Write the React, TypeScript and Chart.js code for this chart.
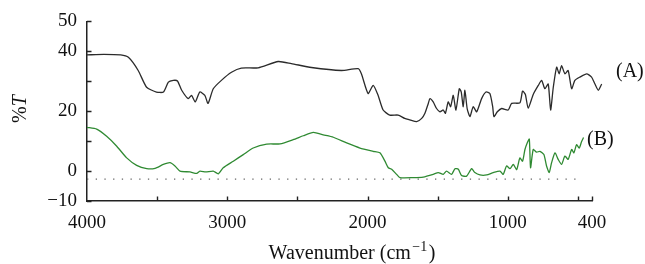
import React, { useEffect, useRef } from "react";
import { Chart, registerables } from "chart.js";

Chart.register(...registerables);

// Spectrum (A): wavenumber (cm^-1) and %T
const aWavenumber = [4000, 3880, 3760, 3705, 3635, 3575, 3505, 3455, 3420, 3385, 3355, 3325, 3278, 3255, 3228, 3196, 3160, 3137, 3100, 3042, 2970, 2900, 2780, 2637, 2543, 2400, 2186, 2067, 2044, 1996, 1960, 1925, 1889, 1842, 1782, 1735, 1698, 1650, 1614, 1591, 1567, 1555, 1532, 1508, 1484, 1460, 1445, 1425, 1408, 1389, 1370, 1346, 1332, 1318, 1306, 1290, 1270, 1247, 1222, 1187, 1156, 1128, 1108, 1099, 1075, 1044, 997, 973, 914, 895, 875, 855, 819, 783, 759, 736, 712, 695, 676, 652, 634, 617, 593, 570, 545, 522, 486, 438, 403, 379, 355, 331];
const aTransmittance = [38.8, 39.0, 38.8, 38.0, 33.6, 28.0, 26.4, 26.4, 29.7, 30.3, 30.1, 27.0, 24.2, 25.3, 23.1, 26.4, 25.3, 22.6, 27.5, 30.3, 33.0, 34.4, 34.5, 36.6, 35.9, 34.6, 33.6, 34.2, 32.5, 25.9, 28.6, 25.3, 20.4, 18.7, 18.7, 17.6, 17.1, 16.5, 17.6, 19.3, 22.6, 24.2, 23.1, 20.9, 19.8, 20.4, 19.3, 23.1, 21.5, 25.3, 20.4, 27.5, 26.4, 21.5, 27.0, 20.9, 18.2, 21.5, 19.8, 24.2, 26.4, 25.9, 21.5, 18.2, 19.8, 20.9, 20.4, 22.6, 22.8, 26.7, 25.6, 21.0, 25.6, 28.6, 30.3, 27.5, 29.1, 20.4, 28.0, 34.7, 32.5, 35.2, 32.5, 33.6, 27.5, 30.3, 31.4, 32.5, 31.4, 29.1, 27.0, 29.1];

// Spectrum (B)
const bWavenumber = [4000, 3931, 3860, 3788, 3717, 3646, 3574, 3515, 3456, 3408, 3373, 3337, 3266, 3218, 3195, 3154, 3100, 3064, 3029, 2957, 2886, 2815, 2719, 2624, 2530, 2458, 2387, 2316, 2244, 2149, 2054, 1960, 1912, 1876, 1852, 1828, 1793, 1769, 1674, 1603, 1532, 1496, 1460, 1437, 1401, 1377, 1353, 1330, 1294, 1258, 1235, 1199, 1151, 1104, 1056, 1033, 1009, 985, 961, 937, 914, 895, 878, 862, 847, 838, 819, 795, 771, 743, 724, 705, 688, 664, 641, 617, 593, 570, 545, 529, 510, 491, 474, 460];
const bTransmittance = [14.6, 14.0, 11.6, 8.3, 4.4, 1.9, 0.8, 0.9, 2.2, 2.8, 1.7, 0.0, -0.3, -0.8, 0.0, -0.3, 0.0, -0.9, 1.1, 3.3, 5.5, 7.7, 9.0, 9.1, 10.5, 11.8, 12.9, 12.1, 11.3, 9.4, 7.7, 6.6, 6.1, 3.3, 1.1, 0.6, -1.1, -2.2, -2.2, -2.0, -1.1, -0.5, -1.1, 0.0, -1.1, 0.8, 0.6, -1.5, -1.7, 0.8, -0.5, -1.3, -1.3, -0.5, 0.0, -1.1, 1.7, 0.8, 2.2, 0.5, 4.4, 3.3, 7.2, 9.4, 10.7, 1.1, 7.2, 6.3, 6.6, 5.5, 1.7, -0.5, 2.8, 6.1, 3.9, 2.2, 5.0, 3.9, 7.2, 6.1, 8.8, 7.7, 9.9, 11.2];

// Dotted baseline
const baselineWavenumber = [4000, 493];
const baselineValue = [-2.7, -2.7];

const xTickLabels = [4000, 3000, 2000, 1000, 400];
const xMinorTicks = [3500, 3000, 2500, 2000, 1500, 1000, 500, 400];
const yTickValues = [50, 40, 30, 20, 10, 0, -10];
const yLabelled = [50, 40, 20, 0, -10];
const seriesLabels = ["(A)", "(B)"];
const yTitle = ["%", "T"];
const xTitle = ["Wavenumber (cm", "\u22121", ")"];

const FONT = "'Liberation Serif', 'Times New Roman', serif";

const toPoints = (xs: number[], ys: number[]) => xs.map((x, i) => ({ x, y: ys[i] }));

const decorPlugin = {
  id: "decor",
  afterDraw(chart: any) {
    const { ctx, scales } = chart;
    const xs = scales.x;
    const ys = scales.y;
    const area = chart.chartArea;
    ctx.save();
    ctx.strokeStyle = "#222";
    ctx.lineWidth = 1.4;
    // inward ticks
    ctx.beginPath();
    yTickValues.forEach((v) => {
      const py = Math.round(ys.getPixelForValue(v)) + 0.5;
      ctx.moveTo(area.left, py);
      ctx.lineTo(area.left + 4.5, py);
    });
    xMinorTicks.forEach((v) => {
      const px = Math.round(xs.getPixelForValue(v)) + 0.5;
      ctx.moveTo(px, area.bottom);
      ctx.lineTo(px, area.bottom - 4.5);
    });
    ctx.stroke();

    ctx.fillStyle = "#111";
    ctx.textBaseline = "middle";
    ctx.font = `20px ${FONT}`;
    ctx.textAlign = "left";
    ctx.fillText(seriesLabels[0], 616, 72);
    ctx.fillText(seriesLabels[1], 587, 140);

    // y title: "%T" rotated, T italic
    ctx.save();
    ctx.translate(21, 109);
    ctx.rotate(-Math.PI / 2);
    ctx.font = `20px ${FONT}`;
    const w1 = ctx.measureText(yTitle[0]).width;
    ctx.font = `italic 20px ${FONT}`;
    const w2 = ctx.measureText(yTitle[1]).width;
    const start = -(w1 + w2) / 2;
    ctx.textAlign = "left";
    ctx.font = `20px ${FONT}`;
    ctx.fillText(yTitle[0], start, 0);
    ctx.font = `italic 20px ${FONT}`;
    ctx.fillText(yTitle[1], start + w1, 0);
    ctx.restore();

    // x title with superscript
    ctx.textAlign = "left";
    ctx.textBaseline = "alphabetic";
    ctx.font = `20px ${FONT}`;
    const t1 = ctx.measureText(xTitle[0]).width;
    ctx.font = `14px ${FONT}`;
    const t2 = ctx.measureText(xTitle[1]).width;
    ctx.font = `20px ${FONT}`;
    const t3 = ctx.measureText(xTitle[2]).width;
    const total = t1 + t2 + 3 + t3;
    const x0 = 352 - total / 2;
    const base = 259;
    ctx.fillText(xTitle[0], x0, base);
    ctx.font = `14px ${FONT}`;
    ctx.fillText(xTitle[1], x0 + t1 + 1.5, base - 8);
    ctx.font = `20px ${FONT}`;
    ctx.fillText(xTitle[2], x0 + t1 + t2 + 3, base);
    ctx.restore();
  },
};

export default function App() {
  const ref = useRef<HTMLCanvasElement | null>(null);
  useEffect(() => {
    if (!ref.current) return;
    const chart = new Chart(ref.current, {
      type: "line",
      data: {
        datasets: [
          {
            label: "A",
            data: toPoints(aWavenumber, aTransmittance),
            borderColor: "#2b2b2b",
            borderWidth: 1.3,
            pointRadius: 0,
            tension: 0.2,
            clip: false as any,
          },
          {
            label: "B",
            data: toPoints(bWavenumber, bTransmittance),
            borderColor: "#2f8a32",
            borderWidth: 1.3,
            pointRadius: 0,
            tension: 0.2,
            clip: false as any,
          },
          {
            label: "baseline",
            data: toPoints(baselineWavenumber, baselineValue),
            borderColor: "#666",
            borderWidth: 1.4,
            borderDash: [1.3, 7.4],
            pointRadius: 0,
          },
        ],
      },
      options: {
        animation: false,
        responsive: false,
        maintainAspectRatio: false,
        layout: { padding: { top: 20, right: 53, left: 0, bottom: 0 } },
        plugins: { legend: { display: false }, tooltip: { enabled: false }, title: { display: false } },
        scales: {
          x: {
            type: "linear",
            reverse: true,
            min: 400,
            max: 4000,
            afterBuildTicks: (s: any) => {
              s.ticks = xTickLabels.map((v) => ({ value: v }));
            },
            afterFit: (s: any) => {
              s.height = 63;
            },
            grid: { display: false, drawTicks: false },
            border: { display: true, color: "#222", width: 1.5 },
            ticks: {
              padding: 11,
              color: "#111",
              font: { family: FONT, size: 19 },
              maxRotation: 0,
              callback: (v: any) => String(v),
            },
          },
          y: {
            type: "linear",
            min: -10,
            max: 50,
            afterBuildTicks: (s: any) => {
              s.ticks = yTickValues.map((v) => ({ value: v }));
            },
            afterFit: (s: any) => {
              s.width = 87;
            },
            grid: { display: false, drawTicks: false },
            border: { display: true, color: "#222", width: 1.5 },
            ticks: {
              padding: 10,
              color: "#111",
              font: { family: FONT, size: 19 },
              callback: (v: any) => (yLabelled.includes(v) ? (v < 0 ? "\u2212" + Math.abs(v) : String(v)) : ""),
            },
          },
        },
      },
      plugins: [decorPlugin],
    } as any);
    return () => chart.destroy();
  }, []);
  return (
    <div style={{ position: "absolute", left: 0, top: 0, width: 645, height: 264, background: "#fff" }}>
      <canvas ref={ref} width={645} height={264} style={{ display: "block" }} />
    </div>
  );
}
